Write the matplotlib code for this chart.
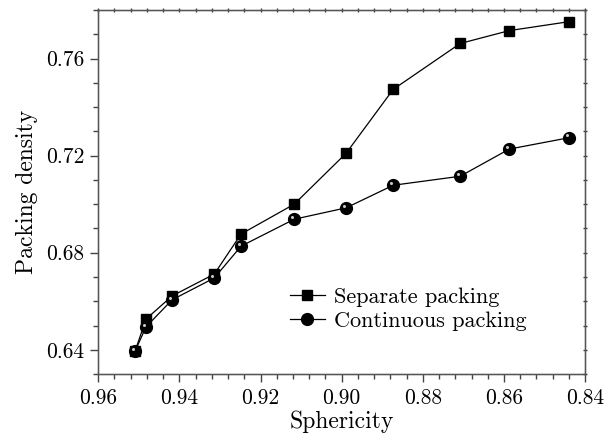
import matplotlib
matplotlib.use("Agg")
from matplotlib import pyplot as plt
from matplotlib.ticker import MultipleLocator, FormatStrFormatter
import matplotlib.transforms as mtransforms

plt.rcParams['font.family'] = ['cmr10', 'DejaVu Serif']
plt.rcParams['axes.formatter.use_mathtext'] = True

# sphericity and packing density
sphericity = [0.9509, 0.9482, 0.9418, 0.9314, 0.9248, 0.9117, 0.8989, 0.8873, 0.8708, 0.8587, 0.8439]
separate = [0.6396, 0.6527, 0.6622, 0.6712, 0.6877, 0.7000, 0.7210, 0.7473, 0.7662, 0.7715, 0.7752]
continuous = [0.6396, 0.6495, 0.6606, 0.6696, 0.6827, 0.6938, 0.6985, 0.7078, 0.7115, 0.7227, 0.7274]

fig = plt.figure(figsize=(6.14, 4.34), dpi=100)
ax = fig.add_axes([0.16, 0.138, 0.793, 0.839])

ax.plot(sphericity, separate, color="black", lw=0.9, marker="s", ms=7,
        mfc="black", mec="black", label="Separate packing", zorder=3)
ax.plot(sphericity, continuous, color="black", lw=0.9, marker="o", ms=8.5,
        mfc="black", mec="black", label="Continuous packing", zorder=3)
# highlight on the spheres
hl = mtransforms.offset_copy(ax.transData, fig=fig, x=-1.6, y=1.6, units="points")
ax.plot(sphericity, continuous, ls="none", marker="o", ms=2.2, mfc="#c8c8c8",
        mec="none", transform=hl, zorder=4)

ax.set_xlim(0.96, 0.84)
ax.set_ylim(0.63, 0.78)
ax.xaxis.set_major_locator(MultipleLocator(0.02))
ax.xaxis.set_minor_locator(MultipleLocator(0.004))
ax.yaxis.set_major_locator(MultipleLocator(0.04))
ax.yaxis.set_minor_locator(MultipleLocator(0.01))
ax.xaxis.set_major_formatter(FormatStrFormatter("%.2f"))
ax.yaxis.set_major_formatter(FormatStrFormatter("%.2f"))

for s in ax.spines.values():
    s.set_color("#555555")
    s.set_linewidth(1.0)
ax.tick_params(which="major", direction="out", length=6, width=1, color="#444444",
               labelsize=15.5, pad=4)
ax.tick_params(which="minor", direction="out", length=3.5, width=1, color="#444444")

# short mirror ticks on top/right
axt = ax.twiny()
axt.set_xlim(ax.get_xlim())
axt.xaxis.set_major_locator(MultipleLocator(0.02))
axt.xaxis.set_minor_locator(MultipleLocator(0.004))
axt.tick_params(which="both", direction="inout", length=2.5, width=1, color="#444444", labeltop=False)
axr = ax.twinx()
axr.set_ylim(ax.get_ylim())
axr.yaxis.set_major_locator(MultipleLocator(0.04))
axr.yaxis.set_minor_locator(MultipleLocator(0.01))
axr.tick_params(which="both", direction="inout", length=2.5, width=1, color="#444444", labelright=False)
for a in (axt, axr):
    for s in a.spines.values():
        s.set_color("#555555")

ax.set_xlabel("Sphericity", fontsize=17, labelpad=2)
ax.set_ylabel("Packing density", fontsize=17, labelpad=6)

ax.legend(loc="center left", bbox_to_anchor=(0.37, 0.178), frameon=False,
          fontsize=16, handlelength=1.6, handletextpad=0.4, labelspacing=0.2,
          borderpad=0)

fig.savefig("out.png", dpi=100)
